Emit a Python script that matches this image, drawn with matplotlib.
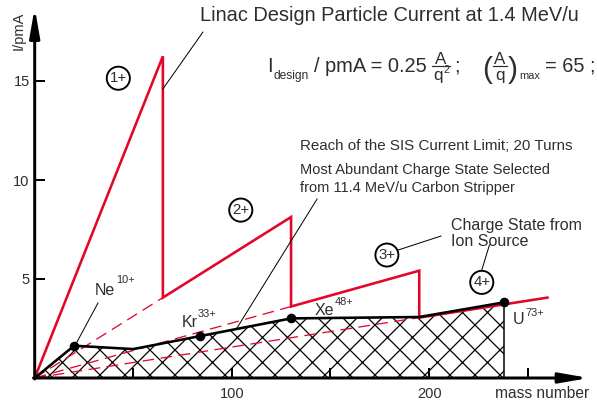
import matplotlib
matplotlib.use("Agg")
import matplotlib.pyplot as plt
import matplotlib.transforms as mtransforms
from matplotlib.lines import Line2D

plt.rcParams['font.family'] = ['Liberation Sans', 'DejaVu Sans']

# Linac design current: sawtooth over charge states 1+ .. 4+
design_mass = [0, 65, 65, 130, 130, 195, 195, 260]
design_current = [0, 16.25, 4.06, 8.13, 3.61, 5.42, 3.05, 4.06]

# charge-state lines extended back to the origin (dashed)
dash_end_mass = [65, 130, 195]
dash_end_current = [4.06, 3.61, 3.05]

# SIS current limit (20 turns) with most abundant stripper charge state
sis_mass = [0, 20, 50, 84, 130, 195, 238]
sis_current = [0, 1.63, 1.46, 2.12, 3.01, 3.08, 3.82]

# marked ions
ion_names = ['Ne', 'Kr', 'Xe', 'U']
ion_charges = ['10+', '33+', '48+', '73+']
ion_mass = [20, 84, 130, 238]
ion_current = [1.63, 2.12, 3.01, 3.82]

# charge-state circles
circle_labels = ['1+', '2+', '3+', '4+']
circle_mass = [42.4, 104.5, 178.6, 226.7]
circle_current = [15.14, 8.48, 6.21, 4.83]

x_ticks = [50, 100, 150, 200, 250]
x_ticklabels = ['', '100', '', '200', '']
y_ticks = [5, 10, 15]
y_ticklabels = ['5', '10', '15']

RED = '#e3062c'
TXT = '#2e2e2e'

W, H, DPI = 597, 403, 150


def P(px):
    """pixel size -> points at the output resolution"""
    return px * 72.0 / DPI


plt.rcParams['hatch.linewidth'] = P(1.25)

x0_px, y0_px = 34.7, 378.0
sx, sy = 1.972, 19.8
xmax, ymax = 282.0, 18.8

fig = plt.figure(figsize=(W / DPI, H / DPI), dpi=DPI)
ax = fig.add_axes([x0_px / W, (H - y0_px) / H, xmax * sx / W, ymax * sy / H])
ax.set_xlim(0, xmax)
ax.set_ylim(0, ymax)
for s in ax.spines.values():
    s.set_visible(False)


def to_data(px, py):
    """image pixel (from top-left) -> data coordinates"""
    return (px - x0_px) / sx, (y0_px - py) / sy


# hatched SIS region
ax.fill_between(sis_mass, 0, sis_current, facecolor='none', edgecolor='black',
                hatch='xx', linewidth=0, zorder=1)
ax.plot([sis_mass[-1], sis_mass[-1]], [0, sis_current[-1]], color='black',
        lw=P(1.5), zorder=2)

# dashed charge-state lines
for m, c in zip(dash_end_mass, dash_end_current):
    ax.plot([0, m], [0, c], color=RED, lw=P(1.3), dashes=(9, 5), zorder=3)

# design current sawtooth
ax.plot(design_mass, design_current, color=RED, lw=P(2.6), zorder=4,
        solid_joinstyle='miter')

# SIS limit line and ions
ax.plot(sis_mass, sis_current, color='black', lw=P(2.6), zorder=5)
ax.plot(ion_mass, ion_current, 'o', color='black', ms=P(7.5), zorder=6)

# axes with arrow heads
arrow = dict(arrowstyle='-|>,head_length=2.4,head_width=0.42', lw=P(3),
             color='black', shrinkA=0, shrinkB=0, mutation_scale=P(10))
ax.annotate('', xy=(0, 18.7), xytext=(0, -0.05), arrowprops=arrow, zorder=7,
            annotation_clip=False)
ax.annotate('', xy=(281, 0), xytext=(-0.6, 0), arrowprops=arrow, zorder=7,
            annotation_clip=False)

ax.set_xticks(x_ticks)
ax.set_xticklabels(x_ticklabels)
ax.set_yticks(y_ticks)
ax.set_yticklabels(y_ticklabels)
ax.tick_params(axis='both', direction='in', length=P(10), width=P(2), color='black',
               labelsize=P(14.7), labelcolor=TXT)
ax.tick_params(axis='x', pad=P(9))
ax.tick_params(axis='y', pad=P(5))

ax.text(*to_data(19, 31), 'I/pmA', rotation=90, ha='center', va='center',
        fontsize=P(14.7), color=TXT)
ax.text(*to_data(495, 398), 'mass number', ha='left', va='baseline',
        fontsize=P(15.5), color=TXT)

fig.canvas.draw()
renderer = fig.canvas.get_renderer()


def piece(anchor, text, dx, dy, size_px, ha='left'):
    """text piece offset from a data anchor by pixels (dy positive up)"""
    t = ax.annotate(text, xy=anchor, xycoords='data', xytext=(dx, dy),
                    textcoords='offset pixels', fontsize=P(size_px), color=TXT,
                    ha=ha, va='baseline', annotation_clip=False, zorder=9)
    return t, t.get_window_extent(renderer).width


# ion labels with raised charge states
label_px = [(95, 295, 12), (181.5, 327, 10), (315, 315, 10), (513, 324, 8)]
for name, q, (lx, ly, rise) in zip(ion_names, ion_charges, label_px):
    anc = to_data(lx, ly)
    _, w = piece(anc, name, 0, 0, 16)
    piece(anc, q, w + 0.5, rise, 11)

# charge-state circles
for lab, m, c in zip(circle_labels, circle_mass, circle_current):
    ax.text(m, c, lab, ha='center', va='center', fontsize=P(15), color=TXT,
            bbox=dict(boxstyle='circle,pad=0.2', fc='white', ec='black', lw=P(1.9)),
            zorder=8)

# leader lines
leaders = [((65, 14.6), (85.3, 17.47)),
           ((143.2, 9.04), (102.6, 2.53)),
           ((32.1, 3.79), (20.9, 1.72)),
           ((206, 7.17), (184.2, 6.46)),
           ((230.6, 6.72), (226.7, 5.45))]
for (xa, ya), (xb, yb) in leaders:
    ax.plot([xa, xb], [ya, yb], color='black', lw=P(1.0), zorder=7)

ax.text(*to_data(200, 21), 'Linac Design Particle Current at 1.4 MeV/u',
        fontsize=P(20), color=TXT, ha='left', va='baseline')


# design-current formula, set piece by piece
def hbar(anchor, x1, x2, dy):
    ad = ax.transData.transform(anchor)
    fig.add_artist(Line2D([ad[0] + x1, ad[0] + x2], [ad[1] + dy, ad[1] + dy],
                          transform=mtransforms.IdentityTransform(),
                          color=TXT, lw=P(1.2)))


def fraction(anchor, cur, num, den, den_sup=None):
    tn, wn = piece(anchor, num, 0, 0, 17)
    tn.remove()
    td, wd = piece(anchor, den, 0, 0, 17)
    td.remove()
    ws = 0
    if den_sup:
        ts, ws = piece(anchor, den_sup, 0, 0, 11)
        ts.remove()
    wf = max(wn, wd + ws) + 3
    bar_y = 6
    piece(anchor, num, cur + wf / 2, bar_y + 2.5, 17, ha='center')
    d0 = cur + (wf - wd - ws) / 2
    piece(anchor, den, d0, bar_y - 14, 17)
    if den_sup:
        piece(anchor, den_sup, d0 + wd + 0.5, bar_y - 7, 11)
    hbar(anchor, cur, cur + wf, bar_y)
    return cur + wf


fa = to_data(267, 72)
cur = 0.0
_, w = piece(fa, 'I', cur, 0, 20)
cur += w + 1
_, w = piece(fa, 'design', cur, -7, 12)
cur += w + 5
_, w = piece(fa, '/ pmA = 0.25', cur, 0, 20)
cur += w + 5
cur = fraction(fa, cur, 'A', 'q', '2') + 4
_, w = piece(fa, ';', cur, 0, 20)
cur += w + 22
_, w = piece(fa, '(', cur, -6, 30)
cur += w + 1
cur = fraction(fa, cur, 'A', 'q') + 1
_, w = piece(fa, ')', cur, -6, 30)
cur += w + 1
_, w = piece(fa, 'max', cur, -7, 11)
cur += w + 5
piece(fa, '= 65 ;', cur, 0, 20)

ax.text(*to_data(300.5, 150), 'Reach of the SIS Current Limit; 20 Turns',
        fontsize=P(15.2), color=TXT, ha='left', va='baseline')
ax.text(*to_data(300.5, 174), 'Most Abundant Charge State Selected',
        fontsize=P(14.7), color=TXT, ha='left', va='baseline')
ax.text(*to_data(300.5, 192), 'from 11.4 MeV/u Carbon Stripper',
        fontsize=P(14.7), color=TXT, ha='left', va='baseline')
ax.text(*to_data(451.5, 230), 'Charge State from', fontsize=P(16), color=TXT,
        ha='left', va='baseline')
ax.text(*to_data(451.5, 246), 'Ion Source', fontsize=P(16), color=TXT,
        ha='left', va='baseline')

fig.savefig('out.png', dpi=DPI)
